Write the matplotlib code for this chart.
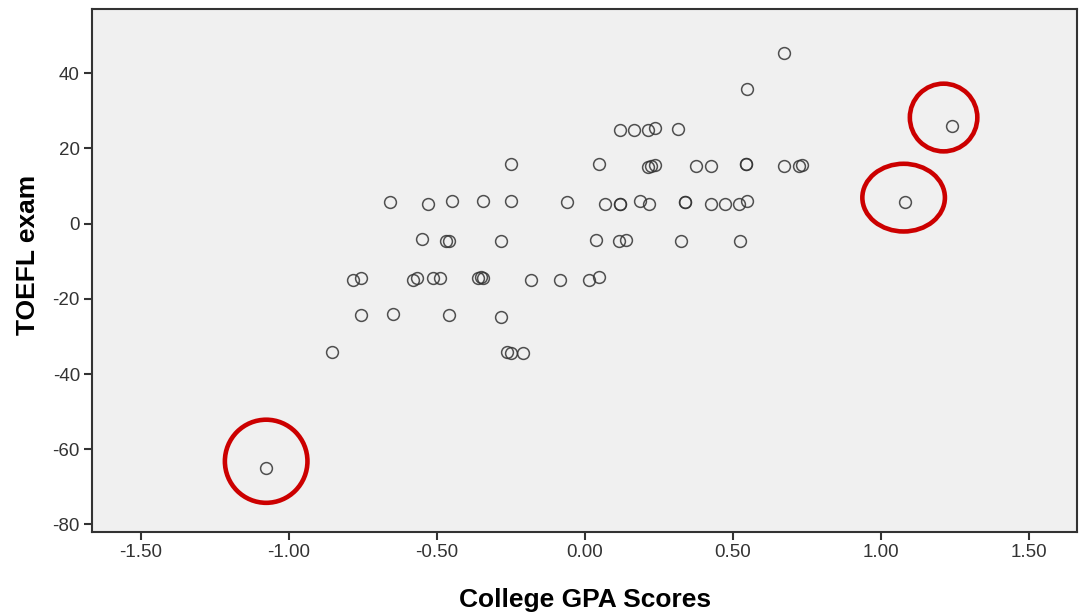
import numpy as np
import matplotlib
matplotlib.use("Agg")
import matplotlib.pyplot as plt
from matplotlib.patches import Ellipse

# 数据: College GPA Scores (x) 与 TOEFL exam (y)
gpa = [-0.659, -0.530, -0.449, -0.344, -0.250, -0.062, 0.067, 0.118, 0.118,
       0.187, 0.217, 0.337, 0.337, 0.427, 0.475, 0.522, 0.547, 1.083,
       -0.250, 0.048, 0.213, 0.224, 0.236, 0.376, 0.425, 0.544, 0.544,
       0.673, 0.724, 0.735,
       0.118, 0.165, 0.213, 0.236, 0.315, 1.242,
       0.547, 0.673,
       -0.549, -0.471, -0.460, -0.284, 0.037, 0.116, 0.138, 0.325, 0.524,
       -0.782, -0.758, -0.580, -0.569, -0.513, -0.488, -0.360, -0.352, -0.344,
       -0.183, -0.084, 0.015, 0.048,
       -0.758, -0.647, -0.460, -0.284,
       -0.856, -0.264, -0.250, -0.210,
       -1.077]
toefl = [5.7, 5.3, 5.9, 5.9, 5.9, 5.7, 5.1, 5.1, 5.1,
         5.9, 5.1, 5.7, 5.7, 5.3, 5.3, 5.3, 5.9, 5.7,
         15.9, 15.9, 15.1, 15.4, 15.7, 15.4, 15.4, 15.9, 15.9,
         15.4, 15.4, 15.7,
         25.0, 25.0, 25.0, 25.4, 25.2, 25.9,
         35.8, 45.4,
         -4.2, -4.7, -4.7, -4.7, -4.3, -4.7, -4.3, -4.5, -4.7,
         -14.9, -14.4, -14.9, -14.6, -14.4, -14.4, -14.4, -14.2, -14.4,
         -14.9, -14.9, -14.9, -14.2,
         -24.4, -24.0, -24.4, -24.9,
         -34.2, -34.2, -34.4, -34.4,
         -64.9]

# 红圈标注 (中心, 宽, 高)
circle_xy = [(-1.077, -63.2), (1.212, 28.2), (1.077, 6.9)]
circle_w = [0.279, 0.228, 0.279]
circle_h = [22.1, 18.0, 18.0]

xticks = [-1.5, -1.0, -0.5, 0.0, 0.5, 1.0, 1.5]
yticks = [-80, -60, -40, -20, 0, 20, 40]

plt.rcParams['font.family'] = ['Liberation Sans', 'DejaVu Sans']
plt.rcParams['axes.unicode_minus'] = False

fig = plt.figure(figsize=(10.8, 6.14), dpi=100)
ax = fig.add_axes([0.0856, 0.1336, 0.9114, 0.8514])
ax.set_facecolor('#f0f0f0')

ax.plot(gpa, toefl, linestyle='none', marker='o', markersize=8.5,
        markerfacecolor='none', markeredgecolor='#333333', markeredgewidth=1.1, alpha=0.85)

for (cx, cy), w, h in zip(circle_xy, circle_w, circle_h):
    ax.add_patch(Ellipse((cx, cy), w, h, fill=False, edgecolor='#cc0000', linewidth=3.3))

ax.set_xlim(-1.664, 1.662)
ax.set_ylim(-82, 57)
ax.set_xticks(xticks)
ax.set_xticklabels(['%.2f' % v for v in xticks])
ax.set_yticks(yticks)

for s in ax.spines.values():
    s.set_color('#333333')
    s.set_linewidth(1.5)
ax.tick_params(direction='out', length=6, width=1.5, color='#333333',
               labelsize=13.5, labelcolor='#333333', pad=3)

ax.set_xlabel('College GPA Scores', fontsize=19, fontweight='bold', va='center')
ax.xaxis.set_label_coords(0.5, -0.13)
ax.set_ylabel('TOEFL exam', fontsize=19, fontweight='bold', va='center')
ax.yaxis.set_label_coords(-0.0655, 0.53)

fig.savefig('out.png', dpi=100)
